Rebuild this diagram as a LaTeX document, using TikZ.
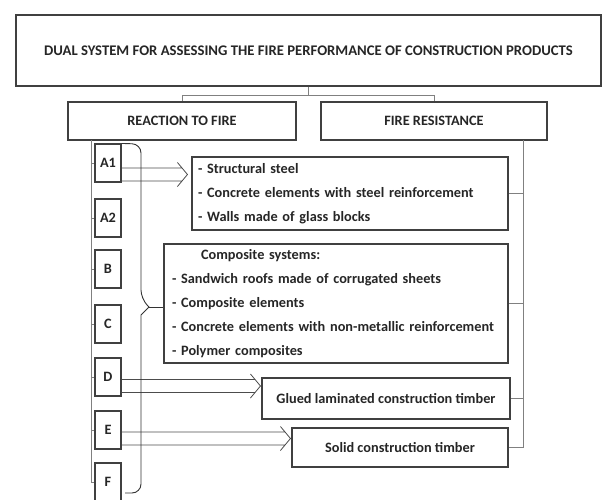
\documentclass[tikz,border=0pt]{standalone}
\usepackage{fontspec}
\setmainfont{Carlito}
\usetikzlibrary{arrows.meta}
\tikzset{
  fbox/.style={draw=black!75, line width=1.1pt, fill=white, inner sep=0pt,
               font=\fontsize{14.3}{24}\selectfont\bfseries, text=black!85},
  fclass/.style={fbox, minimum width=26pt, minimum height=38pt},
  flist/.style={fbox, align=left},
  flink/.style={draw=black!50, line width=0.6pt},
  % hohler doppelpfeil
  farrow/.style={draw=black!70, line width=0.8pt, line join=round,
    to path={
      ([yshift=6.5pt]\tikztostart) -- ([xshift=-5.4pt,yshift=6.5pt]\tikztotarget)
      ([yshift=-6.5pt]\tikztostart) -- ([xshift=-5.4pt,yshift=-6.5pt]\tikztotarget)
      ([xshift=-10pt,yshift=12pt]\tikztotarget) -- (\tikztotarget)
        -- ([xshift=-10pt,yshift=-12pt]\tikztotarget)}},
  fbrace/.style={draw=black!80, line width=0.9pt, rounded corners=9pt},
}

\begin{document}
\begin{tikzpicture}[x=1pt,y=-1pt]
  \useasboundingbox (0,0) rectangle (603,499);
  \clip (0,0) rectangle (603,499);

  % --- kopf ---
  \node[fbox, minimum width=585pt, minimum height=71pt,
        font=\fontsize{14.7}{24}\selectfont\bfseries] (title) at (308.5,50.5)
    {DUAL SYSTEM FOR ASSESSING THE FIRE PERFORMANCE OF CONSTRUCTION PRODUCTS};
  \node[fbox, minimum width=228pt, minimum height=38pt] (reaction) at (182,121)
    {REACTION TO FIRE};
  \node[fbox, minimum width=226pt, minimum height=38pt] (resist) at (434,121)
    {FIRE RESISTANCE};
  \draw[flink] (title.south) -- ++(0,9) coordinate (fork) -| (reaction.north);
  \draw[flink] (fork) -| (resist.north);

  % --- klassen ---
  \foreach \c/\y in {A1/163,A2/218,B/269,C/324,D/377,E/430,F/482}
    \node[fclass] (c\c) at (108,\y) {\c};
  \coordinate (ltop) at (91,140);
  \draw[flink] (ltop) |- (cF.west);
  \foreach \c in {A1,A2,B,C,D,E}
    \draw[flink] (ltop |- c\c.west) -- (c\c.west);

  % --- produkte ---
  \node[flist, minimum width=316pt, minimum height=73pt, text width=304pt]
    (steel) at (350,193.5)
    {- Structural steel\\- Concrete elements with steel reinforcement\\- Walls made of glass blocks};
  \node[flist, minimum width=344pt, minimum height=119pt, text width=328pt]
    (comp) at (336,303.5)
    {\hspace*{29pt}Composite systems:\\- Sandwich roofs made of corrugated sheets\\- Composite elements\\- Concrete elements with non-metallic reinforcement\\- Polymer composites};
  \node[fbox, minimum width=248pt, minimum height=41pt] (glued) at (386,398.5)
    {Glued laminated construction timber};
  \node[fbox, minimum width=216pt, minimum height=39pt] (solid) at (400,447.5)
    {Solid construction timber};

  \coordinate (rtop) at (523,140);
  \draw[flink] (rtop) |- (solid.east);
  \foreach \b in {steel,comp,glued}
    \draw[flink] (rtop |- \b.east) -- (\b.east);

  % --- pfeile ---
  \coordinate (outA1) at ([yshift=-11.5pt]cA1.east);
  \coordinate (outD) at ([yshift=-9pt]cD.east);
  \coordinate (outE) at ([yshift=-8.5pt]cE.east);
  \coordinate (inA1) at ([xshift=-4pt]outA1 -| steel.west);
  \coordinate (inD) at ([xshift=-1pt]outD -| glued.west);
  \coordinate (inE) at ([xshift=-1pt]outE -| solid.west);
  \draw[farrow] (outA1) to (inA1);
  \draw[farrow] (outD) to (inD);
  \draw[farrow] (outE) to (inE);

  % klammer
  \coordinate (tip) at (149,307);
  \draw[fbrace] (cA1.north east) -- (141,144) -- (141,299) [sharp corners]
    -- (tip) -- (141,315) [rounded corners=9pt] -- (141,493) -- (125,493);
  \draw[fbrace] (tip) -- (tip -| comp.west);

\end{tikzpicture}
\end{document}
